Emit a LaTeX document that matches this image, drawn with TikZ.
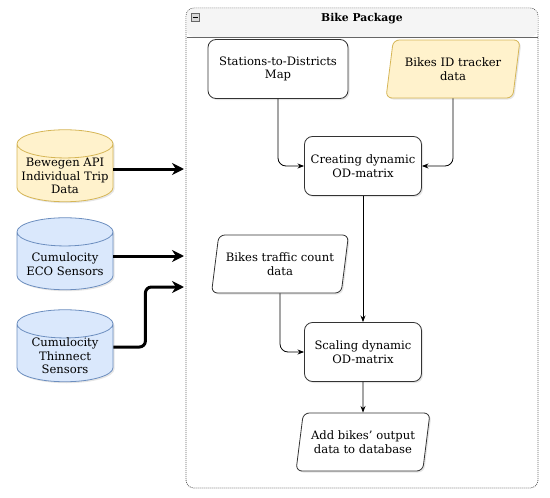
\documentclass[tikz,border=0pt]{standalone}
\usepackage{fontspec}
\setmainfont{DejaVu Serif}
\usepackage{tikz}
\usetikzlibrary{positioning, shapes.geometric, arrows.meta, calc, shadows}

\definecolor{ylwfill}{HTML}{FFF2CC}
\definecolor{ylwline}{HTML}{D6B656}
\definecolor{bluefill}{HTML}{DAE8FC}
\definecolor{blueline}{HTML}{6C8EBF}
\definecolor{pkgline}{HTML}{666666}
\definecolor{pkghead}{HTML}{F5F5F5}

\tikzset{
  shade/.style={drop shadow={opacity=0.2, shadow xshift=1.5pt, shadow yshift=-1.5pt}},
  procbox/.style={draw=black!80, thick, rounded corners=8pt, fill=white, shade,
    minimum width=117pt, minimum height=59pt, align=center, inner sep=2pt},
  iobox/.style={trapezium, trapezium left angle=72, trapezium right angle=108,
    trapezium stretches body, draw=black!80, thick, rounded corners=6pt, fill=white, shade,
    minimum width=134pt, minimum height=58pt, align=center, inner sep=0pt},
  dbase/.style={cylinder, shape border rotate=90, aspect=0.3, draw, thick, shade,
    minimum width=96pt, minimum height=72pt, inner sep=0pt,
    execute at begin node=\hspace*{94pt}},
  dbtext/.style={label={[align=center, yshift=-3pt]center:#1}},
  flow/.style={->, thick, rounded corners=8pt},
  feed/.style={->, line width=3pt, rounded corners=6pt, >={Stealth[length=12pt, width=12pt]}},
}

\begin{document}
\begin{tikzpicture}[>=Stealth, x=1pt, y=-1pt, font=\fontsize{11.6}{13.5}\selectfont]
        \useasboundingbox (0,0) rectangle (550,498);

        % Package frame
        \draw[pkgline, line width=0.8pt, dash pattern=on 1pt off 1pt, rounded corners=8pt, fill=white] (186,8) rectangle (538,488);
        \fill[pkghead, rounded corners=8pt] (186.5,8.5) -- (186.5,37) -- (537.5,37) -- (537.5,8.5) -- cycle;
        \draw[pkgline, line width=1.5pt] (186.5,37.5) -- (537.5,37.5);
        \draw[pkgline, fill=black!15] (191,13) rectangle (199,21);
        \draw[black, thick] (192.5,17) -- (197.5,17);
        \node[font=\fontsize{10.8}{12.5}\selectfont\bfseries] (title) at (362,19) {Bike Package};

        % Nodes
        \node [procbox, minimum width=140pt] (map) at (278,69) {Stations-to-Districts\\Map};
        \node [iobox, fill=ylwfill, draw=ylwline] (tracker) at (453,69) {Bikes ID tracker\\data};
        \node [procbox] (create) at (363,166) {Creating dynamic\\OD-matrix};
        \node [iobox, minimum width=137pt] (count) at (280,264) {Bikes traffic count\\data};
        \node [procbox] (scale) at (363,352) {Scaling dynamic\\OD-matrix};
        \node [iobox] (output) at (363,442) {Add bikes' output\\data to database};

        \node [dbase, fill=ylwfill, draw=ylwline,
               dbtext={Bewegen API\\Individual Trip\\Data}] (bewegen) at (65,173) {};
        \node [dbase, fill=bluefill, draw=blueline,
               dbtext={Cumulocity\\ECO Sensors}] (eco) at (65,261) {};
        \node [dbase, fill=bluefill, draw=blueline,
               dbtext={Cumulocity\\Thinnect\\Sensors}] (thinnect) at (65,353) {};

        \coordinate (in1) at (184,169);
        \coordinate (in2) at (184,256);
        \coordinate (in3) at (184,287);

        % Edges
        \draw[flow] (map.south) |- (create.west);
        \draw[flow] (tracker.south) |- (create.east);
        \draw[flow] (create.south) -- (scale.north);
        \draw[flow] (count.south) |- (scale.west);
        \draw[flow] (scale.south) -- (output.north);

        \draw[feed] (bewegen.east |- in1) -- (in1);
        \draw[feed] (eco.east |- in2) -- (in2);
        \draw[feed] (thinnect.east |- 0,347) -- ++(32,0) |- (in3);

      \end{tikzpicture}
\end{document}
